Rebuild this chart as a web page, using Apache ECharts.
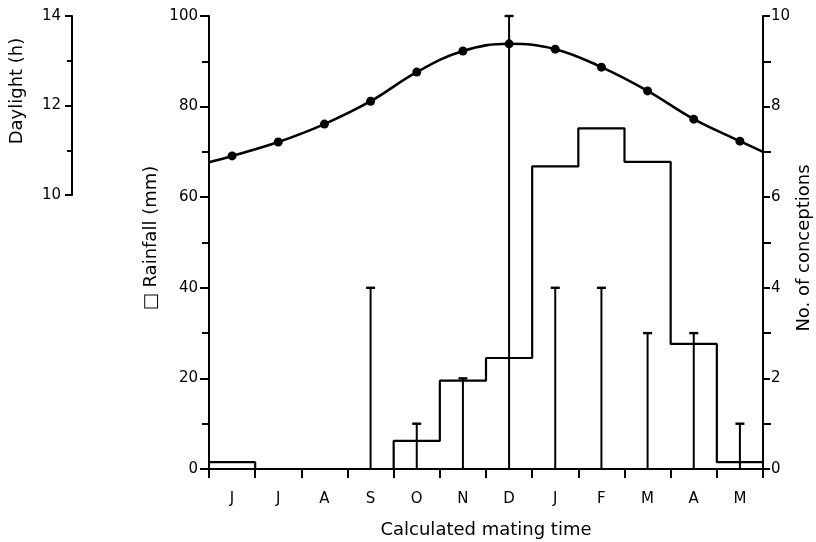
<!DOCTYPE html>
<html>
<head>
<meta charset="utf-8">
<script src="https://cdn.jsdelivr.net/npm/echarts@6/dist/echarts.min.js"></script>
<style>
  html, body { margin: 0; padding: 0; background: #fff; }
  #chart { width: 816px; height: 542px; }
</style>
</head>
<body>
<div id="chart"></div>
<script>
// months of calculated mating time (June .. May)
var months = ['J', 'J', 'A', 'S', 'O', 'N', 'D', 'J', 'F', 'M', 'A', 'M'];
// monthly rainfall (mm), drawn as a step outline
var rainfall = [1.5, 0, 0, 0, 6.2, 19.5, 24.5, 66.8, 75.2, 67.8, 27.6, 1.5];
// number of conceptions per month
var conceptions = [0, 0, 0, 4, 1, 2, 10, 4, 4, 3, 3, 1];
// daylight (h) at mid month, plus the curve ends at start / end of the year
var daylight = [10.88, 11.19, 11.59, 12.10, 12.75, 13.22, 13.38, 13.26, 12.86, 12.33, 11.70, 11.21];
var daylightEdges = [10.74, 10.97];

var rainTicks = [0, 20, 40, 60, 80, 100];
var conceptionTicks = [0, 2, 4, 6, 8, 10];
var daylightTicks = [10, 12, 14];

var FONT = '"DejaVu Sans", sans-serif';
var INK = '#000';

var dom = document.getElementById('chart');
var myChart = echarts.init(dom, null, { renderer: 'canvas' });

// step outline: each month is a flat segment from i to i+1
var rainSteps = [];
for (var i = 0; i < rainfall.length; i++) {
    rainSteps.push([i, rainfall[i]]);
    rainSteps.push([i + 1, rainfall[i]]);
}

var conceptionData = [];
for (var i = 0; i < conceptions.length; i++) {
    conceptionData.push([i + 0.5, conceptions[i]]);
}

var daylightData = [{ value: [0, daylightEdges[0]], symbol: 'none' }];
for (var i = 0; i < daylight.length; i++) {
    daylightData.push([i + 0.5, daylight[i]]);
}
daylightData.push({ value: [months.length, daylightEdges[1]], symbol: 'none' });

function renderConception(params, api) {
    var x = api.value(0);
    var v = api.value(1);
    if (!v) {
        return { type: 'group', children: [] };
    }
    var base = api.coord([x, 0]);
    var top = api.coord([x, v]);
    return {
        type: 'group',
        children: [{
            type: 'line',
            shape: { x1: base[0], y1: base[1], x2: top[0], y2: top[1] },
            style: { stroke: INK, lineWidth: 2 }
        }, {
            type: 'line',
            shape: { x1: top[0] - 4.5, y1: top[1], x2: top[0] + 4.5, y2: top[1] },
            style: { stroke: INK, lineWidth: 2.4 }
        }]
    };
}

function tickAxisLine() {
    return { show: true, lineStyle: { color: INK, width: 2 } };
}

option = {
    backgroundColor: '#fff',
    animation: false,
    textStyle: { fontFamily: FONT },
    grid: [
        { left: 209, right: 53, top: 16, bottom: 73 },
        // small grid that only carries the daylight scale
        { left: 72, top: 16, height: 179, width: 1 }
    ],
    xAxis: [
        {
            type: 'category',
            gridIndex: 0,
            data: months,
            boundaryGap: true,
            axisLine: tickAxisLine(),
            axisTick: { show: true, length: 9, lineStyle: { color: INK, width: 2 } },
            axisLabel: { color: INK, fontSize: 15, fontFamily: FONT, margin: 23 },
            splitLine: { show: false }
        },
        {
            type: 'value',
            gridIndex: 0,
            min: 0,
            max: months.length,
            show: false
        },
        {
            type: 'value',
            gridIndex: 1,
            show: false
        }
    ],
    yAxis: [
        {
            // rainfall (mm)
            type: 'value',
            gridIndex: 0,
            position: 'left',
            min: 0,
            max: 100,
            interval: 20,
            axisLine: tickAxisLine(),
            axisTick: { show: true, length: 9, lineStyle: { color: INK, width: 2 } },
            minorTick: { show: true, splitNumber: 2, length: 7, lineStyle: { color: INK, width: 2 } },
            axisLabel: {
                color: INK, fontSize: 15, fontFamily: FONT, margin: 11,
                formatter: function (v) { return rainTicks.indexOf(v) >= 0 ? String(v) : ''; }
            },
            splitLine: { show: false }
        },
        {
            // no. of conceptions
            type: 'value',
            gridIndex: 0,
            position: 'right',
            min: 0,
            max: 10,
            interval: 2,
            axisLine: tickAxisLine(),
            axisTick: { show: true, length: 7, lineStyle: { color: INK, width: 2 } },
            minorTick: { show: true, splitNumber: 2, length: 8, lineStyle: { color: INK, width: 2 } },
            axisLabel: {
                color: INK, fontSize: 15, fontFamily: FONT, margin: 8,
                formatter: function (v) { return conceptionTicks.indexOf(v) >= 0 ? String(v) : ''; }
            },
            splitLine: { show: false }
        },
        {
            // daylight scale used to place the curve, hidden
            type: 'value',
            gridIndex: 0,
            min: 3.9,
            max: 14,
            show: false
        },
        {
            // visible daylight scale, 10 - 14 h only
            type: 'value',
            gridIndex: 1,
            position: 'left',
            min: 10,
            max: 14,
            interval: 2,
            axisLine: tickAxisLine(),
            axisTick: { show: true, length: 7, lineStyle: { color: INK, width: 2 } },
            minorTick: { show: true, splitNumber: 2, length: 5, lineStyle: { color: INK, width: 2 } },
            axisLabel: {
                color: INK, fontSize: 15, fontFamily: FONT, margin: 11,
                formatter: function (v) { return daylightTicks.indexOf(v) >= 0 ? String(v) : ''; }
            },
            splitLine: { show: false }
        }
    ],
    series: [
        {
            name: 'Rainfall',
            type: 'line',
            xAxisIndex: 1,
            yAxisIndex: 0,
            data: rainSteps,
            showSymbol: false,
            symbol: 'none',
            lineStyle: { color: INK, width: 2.2 },
            silent: true
        },
        {
            name: 'Conceptions',
            type: 'custom',
            xAxisIndex: 1,
            yAxisIndex: 1,
            data: conceptionData,
            renderItem: renderConception,
            clip: false,
            silent: true
        },
        {
            name: 'Daylight',
            type: 'line',
            xAxisIndex: 1,
            yAxisIndex: 2,
            data: daylightData,
            smooth: 0.4,
            symbol: 'circle',
            symbolSize: 9,
            itemStyle: { color: INK },
            lineStyle: { color: INK, width: 2.6 },
            silent: true
        }
    ],
    graphic: [
        {
            type: 'text', x: 17, y: 91, rotation: Math.PI / 2,
            style: { text: 'Daylight (h)', fill: INK, font: '18px ' + FONT, align: 'center', verticalAlign: 'middle' }
        },
        {
            type: 'text', x: 151, y: 238, rotation: Math.PI / 2,
            style: { text: '\u25A1 Rainfall (mm)', fill: INK, font: '18px ' + FONT, align: 'center', verticalAlign: 'middle' }
        },
        {
            type: 'text', x: 804, y: 248, rotation: Math.PI / 2,
            style: { text: 'No. of conceptions', fill: INK, font: '18px ' + FONT, align: 'center', verticalAlign: 'middle' }
        },
        {
            type: 'text', x: 486, y: 530,
            style: { text: 'Calculated mating time', fill: INK, font: '18px ' + FONT, align: 'center', verticalAlign: 'middle' }
        }
    ]
};

if (option && typeof option === 'object') {
    myChart.setOption(option, false);
}
</script>
</body>
</html>
